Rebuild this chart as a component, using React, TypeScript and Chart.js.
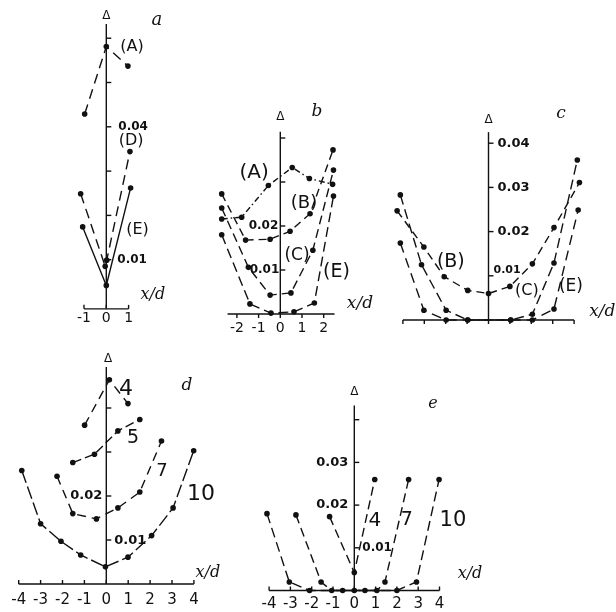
import React, { useEffect, useRef } from 'react';
import { Chart, registerables } from 'chart.js';

Chart.register(...registerables);

const W = 616;
const H = 612;
const INK = '#111';
const SANS = '"DejaVu Sans", "Liberation Sans", sans-serif';
const SERIF = '"DejaVu Serif", "Liberation Serif", serif';

// ---------------- data: panel a ----------------
const aAx = [-0.97, 0, 0.97];
const aAy = [0.0429, 0.0581, 0.0537];
const aDx = [-1.15, -0.05, 0.02, 1.06];
const aDy = [0.0249, 0.0085, 0.0099, 0.0344];
const aEx = [-1.06, 0, 1.09];
const aEy = [0.0174, 0.0042, 0.0262];
const aXTicks = [-1, 0, 1];
const aXLabels = ['-1', '0', '1'];

// ---------------- data: panel b ----------------
const bAx = [-2.7, -1.78, -0.55, 0.55, 1.34, 2.41];
const bAy = [0.0216, 0.022, 0.0292, 0.0333, 0.0308, 0.0295];
const bBx = [-2.7, -1.6, -0.47, 0.45, 1.37, 2.43];
const bBy = [0.0273, 0.0168, 0.017, 0.0188, 0.0228, 0.0373];
const bCx = [-2.7, -1.47, -0.47, 0.49, 1.5, 2.45];
const bCy = [0.0241, 0.0106, 0.0043, 0.0048, 0.0145, 0.0327];
const bEx = [-2.7, -1.4, -0.43, 0.63, 1.57, 2.45];
const bEy = [0.018, 0.0023, 0.0002, 0.0005, 0.0025, 0.0268];
const bXTicks = [-2, -1, 0, 1, 2];
const bXLabels = ['-2', '-1', '0', '1', '2'];

// ---------------- data: panel c ----------------
const cBx = [-4.27, -3.02, -2.07, -0.97, 0, 1.0, 2.05, 3.06, 4.25];
const cBy = [0.0247, 0.0165, 0.0098, 0.0067, 0.006, 0.0076, 0.0127, 0.0209, 0.0311];
const cCx = [-4.12, -3.13, -1.98, -0.97, 1.04, 2.05, 3.06, 4.15];
const cCy = [0.0283, 0.0125, 0.0022, 0, 0, 0.0013, 0.0129, 0.0362];
const cEx = [-4.12, -3.02, -1.98, -0.97, 1.04, 2.05, 3.06, 4.19];
const cEy = [0.0174, 0.0022, 0, 0, 0, 0, 0.0025, 0.0249];
const cXTicks = [-4, -3, -2, -1, 0, 1, 2, 3, 4];

// ---------------- data: panel d ----------------
const d4x = [-0.99, 0.14, 0.99];
const d4y = [0.0361, 0.0464, 0.041];
const d5x = [-1.53, -0.54, 0.53, 1.53];
const d5y = [0.0276, 0.0295, 0.0348, 0.0374];
const d7x = [-2.25, -1.53, -0.45, 0.53, 1.53, 2.52];
const d7y = [0.0245, 0.016, 0.0148, 0.0173, 0.0209, 0.0325];
const d10x = [-3.86, -3, -2.07, -1.17, -0.04, 0.99, 2.07, 3.05, 3.99];
const d10y = [0.0258, 0.0137, 0.0097, 0.0066, 0.0039, 0.0061, 0.011, 0.0173, 0.0303];
const dXTicks = [-4, -3, -2, -1, 0, 1, 2, 3, 4];
const dXLabels = ['-4', '-3', '-2', '-1', '0', '1', '2', '3', '4'];

// ---------------- data: panel e ----------------
const e4x = [-1.16, 0, 0.96];
const e4y = [0.0173, 0.0042, 0.026];
const e7x = [-2.74, -1.56, -1.06, -0.55, 0.5, 1.06, 1.44, 2.55];
const e7y = [0.0177, 0.002, 0, 0, 0, 0, 0.002, 0.026];
const e10x = [-4.1, -3.05, -2.1, 0, 2.0, 2.92, 3.98];
const e10y = [0.018, 0.002, 0, 0, 0, 0.002, 0.026];
const eXTicks = [-4, -3, -2, -1, 0, 1, 2, 3, 4];
const eXLabels = ['-4', '-3', '-2', '-1', '0', '1', '2', '3', '4'];

const yTicks4 = [0.01, 0.02, 0.03, 0.04];
const yTicks6 = [0.01, 0.02, 0.03, 0.04, 0.05, 0.06];

type Series = { xs: number[]; ys: number[]; dash: number[] };
type YLabel = { v: number; t: string; side: 'l' | 'r'; dx: number; dy: number; size: number };
type TextItem = { x: number; y: number; t: string; font: string };
type PanelCfg = {
  px0: number; sx: number; py0: number; sy: number; // placement of the value origin and scale (px per unit)
  xMin: number; xMax: number; yMin: number; yMax: number;
  axFrom: number; axTo: number;
  series: Series[];
  xTicks: number[]; xLabels: string[]; xTickDir: number; xLabelGap: number; xLabelSize: number;
  yTicks: number[]; yLabels: YLabel[];
  texts: TextItem[];
};

const it = (s: number) => `italic ${s}px ${SERIF}`;
const sn = (s: number) => `${s}px ${SANS}`;

const panels: PanelCfg[] = [
  {
    px0: 106.3, sx: 22.3, py0: 304, sy: 4430,
    xMin: -1.6, xMax: 1.6, yMin: -0.0011, yMax: 0.0632,
    axFrom: -1, axTo: 1,
    series: [
      { xs: aAx, ys: aAy, dash: [10, 6] },
      { xs: aDx, ys: aDy, dash: [10, 6] },
      { xs: aEx, ys: aEy, dash: [] },
    ],
    xTicks: aXTicks, xLabels: aXLabels, xTickDir: -1, xLabelGap: 9, xLabelSize: 14,
    yTicks: yTicks6,
    yLabels: [
      { v: 0.04, t: '0.04', side: 'r', dx: 12, dy: 0, size: 12 },
      { v: 0.01, t: '0.01', side: 'r', dx: 11, dy: 0, size: 12 },
    ],
    texts: [
      { x: 0, y: 0.065, t: 'Δ', font: sn(12) },
      { x: 2.27, y: 0.0641, t: 'a', font: it(18) },
      { x: 1.15, y: 0.058, t: '(A)', font: sn(16) },
      { x: 1.11, y: 0.0368, t: '(D)', font: sn(16) },
      { x: 1.4, y: 0.0167, t: '(E)', font: sn(16) },
      { x: 2.09, y: 0.002, t: 'x/d', font: it(16) },
    ],
  },
  {
    px0: 280.3, sx: 21.7, py0: 314, sy: 4400,
    xMin: -3.1, xMax: 3.1, yMin: 0, yMax: 0.0414,
    axFrom: -2.43, axTo: 2.5,
    series: [
      { xs: bAx, ys: bAy, dash: [6, 3, 1.5, 3] },
      { xs: bBx, ys: bBy, dash: [8, 5] },
      { xs: bCx, ys: bCy, dash: [9, 5] },
      { xs: bEx, ys: bEy, dash: [10, 5] },
    ],
    xTicks: bXTicks, xLabels: bXLabels, xTickDir: 1, xLabelGap: 14, xLabelSize: 14,
    yTicks: yTicks4,
    yLabels: [
      { v: 0.02, t: '0.02', side: 'l', dx: 2, dy: 0, size: 12 },
      { v: 0.01, t: '0.01', side: 'l', dx: 1, dy: 0, size: 12 },
    ],
    texts: [
      { x: 0, y: 0.0448, t: 'Δ', font: sn(12) },
      { x: 1.69, y: 0.0459, t: 'b', font: it(17) },
      { x: -1.21, y: 0.032, t: '(A)', font: sn(20) },
      { x: 1.09, y: 0.0252, t: '(B)', font: sn(18) },
      { x: 0.77, y: 0.0132, t: '(C)', font: sn(17) },
      { x: 2.59, y: 0.0095, t: '(E)', font: sn(19) },
      { x: 3.67, y: 0.0023, t: 'x/d', font: it(17) },
    ],
  },
  {
    px0: 488.5, sx: 21.4, py0: 320, sy: 4420,
    xMin: -4.7, xMax: 4.7, yMin: 0, yMax: 0.0425,
    axFrom: -4, axTo: 4,
    series: [
      { xs: cBx, ys: cBy, dash: [8, 5] },
      { xs: cCx, ys: cCy, dash: [10, 5] },
      { xs: cEx, ys: cEy, dash: [10, 6] },
    ],
    xTicks: cXTicks, xLabels: [], xTickDir: 1, xLabelGap: 14, xLabelSize: 14,
    yTicks: yTicks4,
    yLabels: [
      { v: 0.04, t: '0.04', side: 'r', dx: 9, dy: 0, size: 13 },
      { v: 0.03, t: '0.03', side: 'r', dx: 9, dy: 0, size: 13 },
      { v: 0.02, t: '0.02', side: 'r', dx: 9, dy: 0, size: 13 },
      { v: 0.01, t: '0.01', side: 'r', dx: 5, dy: -6, size: 11 },
    ],
    texts: [
      { x: 0, y: 0.0452, t: 'Δ', font: sn(12) },
      { x: 3.39, y: 0.0466, t: 'c', font: it(17) },
      { x: -1.76, y: 0.0132, t: '(B)', font: sn(19) },
      { x: 1.79, y: 0.0067, t: '(C)', font: sn(16) },
      { x: 3.85, y: 0.0076, t: '(E)', font: sn(17) },
      { x: 5.32, y: 0.002, t: 'x/d', font: it(17) },
    ],
  },
  {
    px0: 106.3, sx: 21.9, py0: 584, sy: 4400,
    xMin: -4.5, xMax: 4.5, yMin: 0, yMax: 0.0493,
    axFrom: -4, axTo: 4,
    series: [
      { xs: d4x, ys: d4y, dash: [9, 6] },
      { xs: d5x, ys: d5y, dash: [9, 4] },
      { xs: d7x, ys: d7y, dash: [9, 6] },
      { xs: d10x, ys: d10y, dash: [13, 4] },
    ],
    xTicks: dXTicks, xLabels: dXLabels, xTickDir: -1, xLabelGap: 16, xLabelSize: 15,
    yTicks: yTicks4,
    yLabels: [
      { v: 0.02, t: '0.02', side: 'l', dx: 4, dy: 0, size: 13 },
      { v: 0.01, t: '0.01', side: 'r', dx: 8, dy: 1, size: 13 },
    ],
    texts: [
      { x: 0.08, y: 0.0511, t: 'Δ', font: sn(12) },
      { x: 3.68, y: 0.045, t: 'd', font: it(17) },
      { x: 0.9, y: 0.0443, t: '4', font: sn(22) },
      { x: 1.22, y: 0.0332, t: '5', font: sn(19) },
      { x: 2.54, y: 0.0255, t: '7', font: sn(18) },
      { x: 4.32, y: 0.0205, t: '10', font: sn(22) },
      { x: 4.64, y: 0.0025, t: 'x/d', font: it(16) },
    ],
  },
  {
    px0: 354.3, sx: 21.3, py0: 590.5, sy: 4270,
    xMin: -4.6, xMax: 4.6, yMin: 0, yMax: 0.0433,
    axFrom: -4, axTo: 4,
    series: [
      { xs: e4x, ys: e4y, dash: [9, 5] },
      { xs: e7x, ys: e7y, dash: [9, 5] },
      { xs: e10x, ys: e10y, dash: [10, 5] },
    ],
    xTicks: eXTicks, xLabels: eXLabels, xTickDir: -1, xLabelGap: 14, xLabelSize: 15,
    yTicks: yTicks4,
    yLabels: [
      { v: 0.03, t: '0.03', side: 'l', dx: 6, dy: 0, size: 13 },
      { v: 0.02, t: '0.02', side: 'l', dx: 6, dy: 0, size: 13 },
      { v: 0.01, t: '0.01', side: 'r', dx: 8, dy: 0, size: 12 },
    ],
    texts: [
      { x: 0, y: 0.0464, t: 'Δ', font: sn(12) },
      { x: 3.69, y: 0.0438, t: 'e', font: it(16) },
      { x: 0.97, y: 0.0163, t: '4', font: sn(20) },
      { x: 2.47, y: 0.0165, t: '7', font: sn(19) },
      { x: 4.63, y: 0.0163, t: '10', font: sn(21) },
      { x: 5.43, y: 0.0039, t: 'x/d', font: it(16) },
    ],
  },
];

function makePlugin(cfg: PanelCfg) {
  return {
    id: 'handAxes',
    afterDraw(chart: any) {
      const xs = chart.scales.x;
      const ys = chart.scales.y;
      const X = (v: number) => xs.getPixelForValue(v);
      const Y = (v: number) => ys.getPixelForValue(v);
      const ctx: CanvasRenderingContext2D = chart.ctx;
      ctx.save();
      ctx.strokeStyle = INK;
      ctx.fillStyle = INK;
      ctx.lineWidth = 1.4;
      ctx.setLineDash([]);
      // x axis
      const ay = Y(cfg.yMin);
      ctx.beginPath();
      ctx.moveTo(X(cfg.axFrom), ay);
      ctx.lineTo(X(cfg.axTo), ay);
      ctx.stroke();
      cfg.xTicks.forEach((t) => {
        ctx.beginPath();
        ctx.moveTo(X(t), ay);
        ctx.lineTo(X(t), ay + cfg.xTickDir * 4);
        ctx.stroke();
      });
      ctx.font = sn(cfg.xLabelSize);
      ctx.textAlign = 'center';
      ctx.textBaseline = 'middle';
      cfg.xLabels.forEach((s, i) => ctx.fillText(s, X(cfg.xTicks[i]), ay + cfg.xLabelGap));
      // y axis
      const ax = X(0);
      ctx.beginPath();
      ctx.moveTo(ax, ay);
      ctx.lineTo(ax, Y(cfg.yMax));
      ctx.stroke();
      cfg.yTicks.forEach((t) => {
        ctx.beginPath();
        ctx.moveTo(ax, Y(t));
        ctx.lineTo(ax + 5, Y(t));
        ctx.stroke();
      });
      cfg.yLabels.forEach((l) => {
        ctx.font = `bold ${l.size}px ${SANS}`;
        ctx.textAlign = l.side === 'r' ? 'left' : 'right';
        ctx.fillText(l.t, l.side === 'r' ? ax + l.dx : ax - l.dx, Y(l.v) + l.dy);
      });
      cfg.texts.forEach((tx) => {
        ctx.font = tx.font;
        ctx.textAlign = 'center';
        ctx.fillText(tx.t, X(tx.x), Y(tx.y));
      });
      ctx.restore();
    },
  };
}

function Panel({ cfg }: { cfg: PanelCfg }) {
  const ref = useRef<HTMLCanvasElement>(null);
  useEffect(() => {
    if (!ref.current) return;
    const left = cfg.px0 + cfg.sx * cfg.xMin;
    const right = cfg.px0 + cfg.sx * cfg.xMax;
    const top = cfg.py0 - cfg.sy * cfg.yMax;
    const bottom = cfg.py0 - cfg.sy * cfg.yMin;
    const chart = new Chart(ref.current, {
      type: 'scatter',
      data: {
        datasets: cfg.series.map((s) => ({
          data: s.xs.map((x, i) => ({ x, y: s.ys[i] })),
          showLine: true,
          borderColor: INK,
          backgroundColor: INK,
          borderWidth: 1.4,
          borderDash: s.dash,
          pointRadius: 2.8,
          pointHoverRadius: 2.8,
          pointBackgroundColor: INK,
          pointBorderWidth: 0,
          tension: 0,
          clip: false as any,
        })),
      },
      options: {
        responsive: false,
        animation: false,
        events: [],
        layout: {
          padding: { left, top, right: W - right, bottom: H - bottom },
        },
        scales: {
          x: { type: 'linear', min: cfg.xMin, max: cfg.xMax, display: false },
          y: { type: 'linear', min: cfg.yMin, max: cfg.yMax, display: false },
        },
        plugins: { legend: { display: false }, tooltip: { enabled: false } },
      },
      plugins: [makePlugin(cfg)],
    } as any);
    return () => chart.destroy();
  }, [cfg]);
  return (
    <canvas
      ref={ref}
      width={W}
      height={H}
      style={{ position: 'absolute', left: 0, top: 0, width: W, height: H }}
    />
  );
}

export default function App() {
  return (
    <div style={{ position: 'absolute', left: 0, top: 0, width: W, height: H, background: '#fff', overflow: 'hidden' }}>
      {panels.map((p, i) => (
        <Panel key={i} cfg={p} />
      ))}
    </div>
  );
}
